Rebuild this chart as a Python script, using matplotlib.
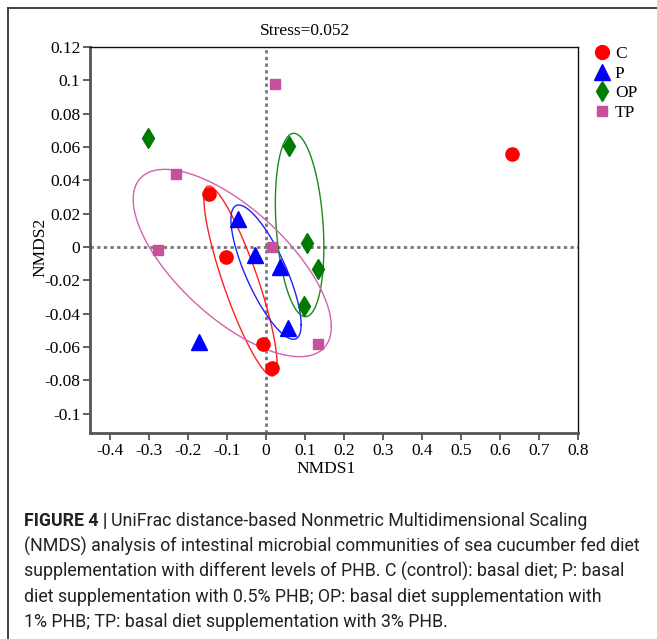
import numpy as np
import matplotlib.pyplot as plt
from matplotlib.lines import Line2D

# NMDS scores per group (NMDS1, NMDS2)
groups = ["C", "P", "OP", "TP"]
c_x = [0.632, -0.145, -0.102, -0.009, 0.015]
c_y = [0.0556, 0.032, -0.0062, -0.0584, -0.0724]
p_x = [-0.071, -0.028, 0.037, 0.056, -0.171]
p_y = [0.0168, -0.0046, -0.0122, -0.0484, -0.0568]
op_x = [-0.303, 0.058, 0.105, 0.134, 0.097]
op_y = [0.0656, 0.0608, 0.0022, -0.0134, -0.0352]
tp_x = [0.024, -0.231, -0.278, 0.016, 0.134]
tp_y = [0.0976, 0.0436, -0.0018, 0.0002, -0.0584]

# group ellipses: centre, half extents along each axis, correlation
ell_cx = [-0.0656, 0.0000, 0.0861, -0.0866]
ell_cy = [-0.0204, -0.0151, 0.0132, -0.0096]
ell_sx = [0.0938, 0.0900, 0.0622, 0.2540]
ell_sy = [0.0570, 0.0403, 0.0550, 0.0562]
ell_r = [-0.866, -0.78, -0.24, -0.68]

stress = 0.052
xticks = [-0.4, -0.3, -0.2, -0.1, 0, 0.1, 0.2, 0.3, 0.4, 0.5, 0.6, 0.7, 0.8]
yticks = [-0.1, -0.08, -0.06, -0.04, -0.02, 0, 0.02, 0.04, 0.06, 0.08, 0.1, 0.12]

caption_head = "FIGURE 4 |"
caption_lines = [
    "UniFrac distance-based Nonmetric Multidimensional Scaling",
    "(NMDS) analysis of intestinal microbial communities of sea cucumber fed diet",
    "supplementation with different levels of PHB. C (control): basal diet; P: basal",
    "diet supplementation with 0.5% PHB; OP: basal diet supplementation with",
    "1% PHB; TP: basal diet supplementation with 3% PHB.",
]

colors = ["#ff0000", "#0000ff", "#007a00", "#c8509a"]
ell_colors = ["#ff2020", "#2020ff", "#1a8a1a", "#d660b0"]
markers = ["o", "^", "d", "s"]
sizes = [9.5, 11, 10, 7.5]
xs = [c_x, p_x, op_x, tp_x]
ys = [c_y, p_y, op_y, tp_y]

serif = "Liberation Serif"

fig = plt.figure(figsize=(6.57, 6.39), dpi=100)
W, H = 657, 639
ax = fig.add_axes([90 / W, 1 - 433 / H, (578 - 90) / W, (433 - 47) / H])

ax.axhline(0, color="#777777", lw=2, ls=(0, (1.2, 1.2)), zorder=1)
ax.axvline(0, color="#777777", lw=2, ls=(0, (1.2, 1.2)), zorder=1)

t = np.linspace(0, 2 * np.pi, 300)
for i in range(len(groups)):
    ex = ell_cx[i] + ell_sx[i] * np.cos(t)
    ey = ell_cy[i] + ell_sy[i] * (ell_r[i] * np.cos(t)
                                  + np.sqrt(1 - ell_r[i] ** 2) * np.sin(t))
    ax.plot(ex, ey, color=ell_colors[i], lw=1.0, zorder=2)

for i, g in enumerate(groups):
    ax.plot(xs[i], ys[i], ls="none", marker=markers[i], ms=sizes[i],
            color=colors[i], mec=colors[i], zorder=3)

ax.set_xlim(-0.4514, 0.8)
ax.set_ylim(-0.1116, 0.12)
ax.set_xticks(xticks)
ax.set_xticklabels([f"{v:g}" for v in xticks])
ax.set_yticks(yticks)
ax.set_yticklabels([f"{v:g}" for v in yticks])
ax.tick_params(direction="out", length=5, width=1.2, color="#444444",
               labelsize=12.5, pad=2)
for lab in ax.get_xticklabels() + ax.get_yticklabels():
    lab.set_family(serif)

for side in ["left", "bottom"]:
    ax.spines[side].set_linewidth(2.0)
    ax.spines[side].set_color("#555555")
for side in ["top", "right"]:
    ax.spines[side].set_linewidth(1.0)
    ax.spines[side].set_color("#111111")

fig.text(305 / W, 1 - 31 / H, f"Stress={stress}", family=serif, fontsize=12.5,
         ha="center", va="center")
fig.text(326 / W, 1 - 469 / H, "NMDS1", family=serif, fontsize=12.5,
         ha="center", va="center")
fig.text(40 / W, 1 - 247 / H, "NMDS2", family=serif, fontsize=12.5,
         ha="center", va="center", rotation=90)

handles = [Line2D([], [], ls="none", marker=markers[i], ms=sizes[i] * 1.05,
                  color=colors[i]) for i in range(len(groups))]
fig.legend(handles, groups, loc="upper left",
           bbox_to_anchor=(594 / W, 1 - 46 / H), frameon=False,
           prop={"family": serif, "size": 12.5}, handlelength=0.9,
           handletextpad=0.3, labelspacing=0.2, borderpad=0,
           borderaxespad=0)

# page frame around the figure
fig.add_artist(Line2D([8 / W, 8 / W], [0, 1 - 8 / H], transform=fig.transFigure,
                      color="#333333", lw=1.3))
fig.add_artist(Line2D([8 / W, 1], [1 - 8 / H, 1 - 8 / H], transform=fig.transFigure,
                      color="#333333", lw=1.3))

# caption
cap_font = ["Roboto", "DejaVu Sans"]
cap_size = 12.8
cap_color = "#222222"
y0 = 521
head = fig.text(24 / W, 1 - y0 / H, caption_head, family=cap_font,
                fontsize=cap_size, weight="bold", ha="left", va="center",
                color=cap_color)
fig.canvas.draw()
head_end = head.get_window_extent().x1
fig.text((head_end + 4) / W, 1 - y0 / H, caption_lines[0], family=cap_font,
         fontsize=cap_size, ha="left", va="center", color=cap_color)
for k, line in enumerate(caption_lines[1:], start=1):
    fig.text(24 / W, 1 - (y0 + 25.2 * k) / H, line, family=cap_font,
             fontsize=cap_size, ha="left", va="center", color=cap_color)

fig.savefig("out.png", dpi=100)
